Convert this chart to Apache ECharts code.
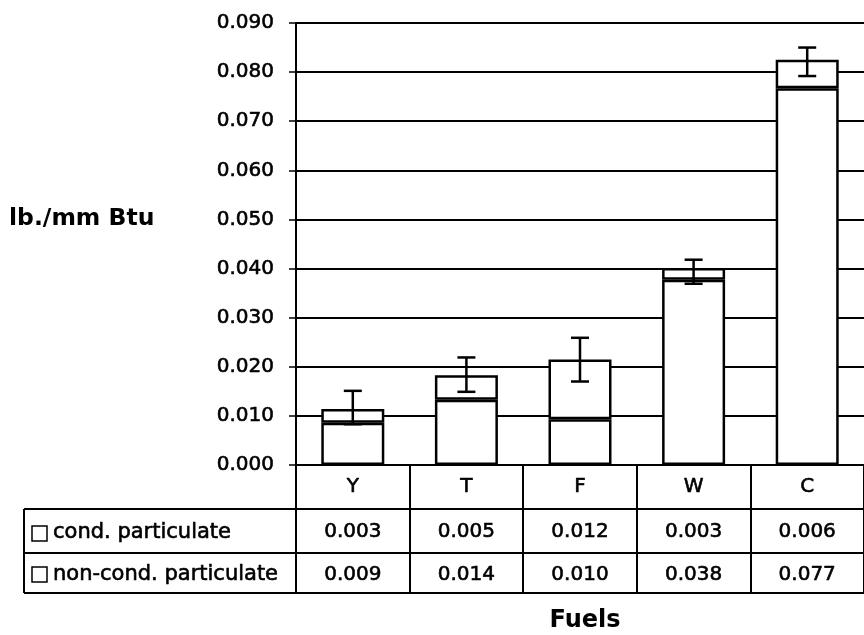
<!DOCTYPE html>
<html>
<head>
<meta charset="utf-8">
<script src="https://cdn.jsdelivr.net/npm/echarts@6/dist/echarts.min.js"></script>
<style>
html,body{margin:0;padding:0;background:#fff;}
#chart{width:864px;height:635px;}
</style>
</head>
<body>
<div id="chart"></div>
<script>
const categories = ['Y', 'T', 'F', 'W', 'C'];
const seriesNames = ['cond. particulate', 'non-cond. particulate'];
const nonCondValues = [0.0086, 0.0133, 0.0093, 0.0377, 0.0767];
const condValues = [0.0028, 0.0050, 0.0122, 0.0024, 0.0058];
const errLow = [0.0083, 0.0149, 0.0170, 0.0369, 0.0792];
const errHigh = [0.0151, 0.0219, 0.0259, 0.0418, 0.0850];
const tableCond = ['0.003', '0.005', '0.012', '0.003', '0.006'];
const tableNonCond = ['0.009', '0.014', '0.010', '0.038', '0.077'];
const yTicks = { min: 0, max: 0.09, interval: 0.01 };
const yAxisTitle = 'lb./mm Btu';
const xAxisTitle = 'Fuels';

const FONT = 'DejaVu Sans';
const chart = echarts.init(document.getElementById('chart'), null, { renderer: 'canvas' });

const errData = categories.map((c, i) => [i, errLow[i], errHigh[i]]);
const heavy = { textBorderColor: '#000', textBorderWidth: 0.6 };

const option = {
  backgroundColor: '#fff',
  animation: false,
  grid: { left: 296, top: 23, width: 580, height: 442, containLabel: false },
  xAxis: [
    {
      type: 'category', data: categories, position: 'bottom',
      axisLine: { show: true, lineStyle: { color: '#000', width: 2 } },
      axisTick: { show: true, length: 128, lineStyle: { color: '#000', width: 2 } },
      axisLabel: Object.assign({ margin: 12, color: '#000', fontFamily: FONT, fontSize: 20 }, heavy),
      splitLine: { show: false }
    },
    {
      type: 'category', data: tableCond, position: 'bottom',
      axisLine: { show: false }, axisTick: { show: false },
      axisLabel: Object.assign({ margin: 57, color: '#000', fontFamily: FONT, fontSize: 20 }, heavy),
      splitLine: { show: false }
    },
    {
      type: 'category', data: tableNonCond, position: 'bottom',
      axisLine: { show: false }, axisTick: { show: false },
      axisLabel: Object.assign({ margin: 100, color: '#000', fontFamily: FONT, fontSize: 20 }, heavy),
      splitLine: { show: false }
    }
  ],
  yAxis: {
    type: 'value', min: yTicks.min, max: yTicks.max, interval: yTicks.interval,
    axisLine: { show: true, lineStyle: { color: '#000', width: 2 } },
    axisTick: { show: true, length: 7, lineStyle: { color: '#000', width: 1.5 } },
    axisLabel: Object.assign({ margin: 22, color: '#000', fontFamily: FONT, fontSize: 20,
      formatter: v => v.toFixed(3) }, heavy),
    splitLine: { show: true, lineStyle: { color: '#000', width: 2 } }
  },
  series: [
    {
      name: seriesNames[1], type: 'bar', stack: 'total', data: nonCondValues,
      barWidth: 63,
      itemStyle: { color: '#fff', borderColor: '#000', borderWidth: 2.5 }
    },
    {
      name: seriesNames[0], type: 'bar', stack: 'total', data: condValues,
      barWidth: 63,
      itemStyle: { color: '#fff', borderColor: '#000', borderWidth: 2.5 }
    },
    {
      type: 'custom', data: errData, encode: { x: 0, y: [1, 2] }, z: 5,
      renderItem: function (params, api) {
        const lo = api.coord([api.value(0), api.value(1)]);
        const hi = api.coord([api.value(0), api.value(2)]);
        const cx = lo[0];
        const hw = 9;
        const st = { stroke: '#000', lineWidth: 2.5 };
        return {
          type: 'group',
          children: [
            { type: 'line', shape: { x1: cx, y1: lo[1], x2: cx, y2: hi[1] }, style: st },
            { type: 'line', shape: { x1: cx - hw, y1: lo[1], x2: cx + hw, y2: lo[1] }, style: st },
            { type: 'line', shape: { x1: cx - hw, y1: hi[1], x2: cx + hw, y2: hi[1] }, style: st }
          ]
        };
      }
    }
  ],
  graphic: [
    { type: 'line', shape: { x1: 24, y1: 509, x2: 864, y2: 509 }, style: { stroke: '#000', lineWidth: 2 } },
    { type: 'line', shape: { x1: 24, y1: 553, x2: 864, y2: 553 }, style: { stroke: '#000', lineWidth: 2 } },
    { type: 'line', shape: { x1: 24, y1: 593, x2: 864, y2: 593 }, style: { stroke: '#000', lineWidth: 2 } },
    { type: 'line', shape: { x1: 24, y1: 509, x2: 24, y2: 593 }, style: { stroke: '#000', lineWidth: 2 } },
    { type: 'rect', shape: { x: 32, y: 526, width: 15, height: 15 }, style: { fill: '#fff', stroke: '#000', lineWidth: 1.5 } },
    { type: 'rect', shape: { x: 32, y: 567, width: 15, height: 15 }, style: { fill: '#fff', stroke: '#000', lineWidth: 1.5 } },
    { type: 'text', x: 53, y: 533, style: { text: seriesNames[0], font: '21px "' + FONT + '"', fill: '#000', stroke: '#000', lineWidth: 0.6, verticalAlign: 'middle' } },
    { type: 'text', x: 53, y: 575, style: { text: seriesNames[1], font: '21px "' + FONT + '"', fill: '#000', stroke: '#000', lineWidth: 0.6, verticalAlign: 'middle' } },
    { type: 'text', x: 9, y: 219, style: { text: yAxisTitle, font: 'bold 23.5px "' + FONT + '"', fill: '#000', verticalAlign: 'middle' } },
    { type: 'text', x: 585, y: 621, style: { text: xAxisTitle, font: 'bold 24px "' + FONT + '"', fill: '#000', align: 'center', verticalAlign: 'middle' } }
  ]
};
chart.setOption(option);
</script>
</body>
</html>
